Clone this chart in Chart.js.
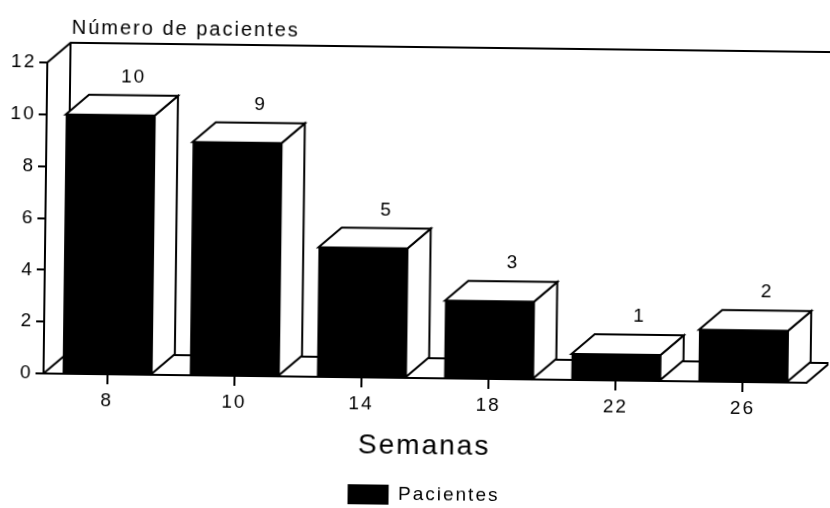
<!DOCTYPE html>
<html>
<head>
<meta charset="utf-8">
<script src="https://cdn.jsdelivr.net/npm/chart.js@4/dist/chart.umd.min.js"></script>
<style>
  html, body { margin: 0; padding: 0; background: #fff; overflow: hidden; }
  #wrap { width: 830px; height: 508px; transform: rotate(0.7deg); transform-origin: 415px 254px; }
  canvas { display: block; }
</style>
</head>
<body>
<div id="wrap"><canvas id="c" width="830" height="508"></canvas></div>
<script>
// Pacientes por semana
const semanas = ['8', '10', '14', '18', '22', '26'];
const pacientes = [10, 9, 5, 3, 1, 2];
const yTicks = [0, 2, 4, 6, 8, 10, 12];
const serieNombre = 'Pacientes';
const ejeX = 'Semanas';
const ejeY = 'Número de pacientes';

// 3D box depth (pixels)
const DX = 23, DY = -20;
const INK = '#000';
const LINE = 2;
const FAMILY = '"Liberation Sans", Arial, Helvetica, sans-serif';

function spacing(chart) { chart.ctx.letterSpacing = '2px'; }
const letterSpacingPlugin = { id: 'letterSpacing', afterInit: spacing, beforeUpdate: spacing, beforeDraw: spacing };

// Back wall, floor and the white top/side faces of each bar
const box3d = {
  id: 'box3d',
  beforeDatasetsDraw(chart) {
    const { ctx, chartArea: a, scales: { y } } = chart;
    const y0 = y.getPixelForValue(yTicks[0]);
    const yT = y.getPixelForValue(yTicks[yTicks.length - 1]);
    ctx.save();
    ctx.strokeStyle = INK;
    ctx.lineWidth = LINE;
    ctx.lineJoin = 'miter';

    // floor
    ctx.beginPath();
    ctx.moveTo(a.left, y0);
    ctx.lineTo(a.left + DX, y0 + DY);
    ctx.lineTo(a.right + DX, y0 + DY);
    ctx.lineTo(a.right, y0);
    ctx.stroke();

    // back wall
    ctx.beginPath();
    ctx.moveTo(a.left, yT);
    ctx.lineTo(a.left + DX, yT + DY);
    ctx.lineTo(a.right + DX, yT + DY);
    ctx.moveTo(a.left + DX, yT + DY);
    ctx.lineTo(a.left + DX, y0 + DY);
    ctx.moveTo(a.right + DX, yT + DY);
    ctx.lineTo(a.right + DX, y0 + DY);
    ctx.stroke();

    // bar faces
    chart.getDatasetMeta(0).data.forEach(bar => {
      const x0 = bar.x - bar.width / 2, x1 = bar.x + bar.width / 2;
      const top = bar.y, base = bar.base;
      ctx.fillStyle = '#fff';
      // side
      ctx.beginPath();
      ctx.moveTo(x1, top);
      ctx.lineTo(x1 + DX, top + DY);
      ctx.lineTo(x1 + DX, base + DY);
      ctx.lineTo(x1, base);
      ctx.closePath();
      ctx.fill();
      ctx.stroke();
      // top
      ctx.beginPath();
      ctx.moveTo(x0, top);
      ctx.lineTo(x0 + DX, top + DY);
      ctx.lineTo(x1 + DX, top + DY);
      ctx.lineTo(x1, top);
      ctx.closePath();
      ctx.fill();
      ctx.stroke();
    });
    ctx.restore();
  },
  afterDatasetsDraw(chart) {
    const { ctx, chartArea: a, scales: { y } } = chart;
    const yT = y.getPixelForValue(yTicks[yTicks.length - 1]);
    ctx.save();
    ctx.fillStyle = INK;
    ctx.letterSpacing = '2px';
    ctx.font = '19px ' + FAMILY;
    ctx.textAlign = 'center';
    ctx.textBaseline = 'middle';
    chart.getDatasetMeta(0).data.forEach((bar, i) => {
      ctx.fillText(String(pacientes[i]), bar.x + DX, bar.y + DY - 18);
    });
    // axis caption above the wall
    ctx.font = '20px ' + FAMILY;
    ctx.textAlign = 'left';
    ctx.fillText(ejeY, a.left + 24, yT + DY - 15);
    ctx.restore();
  }
};

new Chart(document.getElementById('c'), {
  type: 'bar',
  data: {
    labels: semanas,
    datasets: [{
      label: serieNombre,
      data: pacientes,
      backgroundColor: INK,
      borderWidth: 0,
      barPercentage: 0.7,
      categoryPercentage: 1
    }]
  },
  options: {
    responsive: false,
    animation: false,
    devicePixelRatio: 1,
    layout: { padding: { top: 67, right: 22, bottom: -7, left: 0 } },
    plugins: {
      tooltip: { enabled: false },
      legend: {
        position: 'bottom',
        fullSize: false,
        labels: { boxWidth: 41, boxHeight: 20, padding: 0, color: INK, font: { family: FAMILY, size: 19 } }
      }
    },
    scales: {
      x: {
        offset: true,
        grid: { offset: false, drawOnChartArea: false, drawTicks: true, tickLength: 10, color: INK, lineWidth: LINE },
        border: { display: true, color: INK, width: LINE },
        ticks: { color: INK, font: { family: FAMILY, size: 19 }, padding: 5, maxRotation: 0, autoSkip: false },
        title: { display: true, text: ejeX, color: INK, font: { family: FAMILY, size: 28 }, padding: { top: 0, bottom: 22 } },
        afterFit(s) { s.height = 107; }
      },
      y: {
        min: yTicks[0],
        max: yTicks[yTicks.length - 1],
        afterBuildTicks(s) { s.ticks = yTicks.map(v => ({ value: v })); },
        grid: { drawOnChartArea: false, drawTicks: true, tickLength: 8, color: INK, lineWidth: LINE },
        border: { display: true, color: INK, width: LINE },
        ticks: { color: INK, font: { family: FAMILY, size: 19 }, padding: 3 },
        afterFit(s) { s.width = 45; }
      }
    }
  },
  plugins: [letterSpacingPlugin, box3d]
});
</script>
</body>
</html>
